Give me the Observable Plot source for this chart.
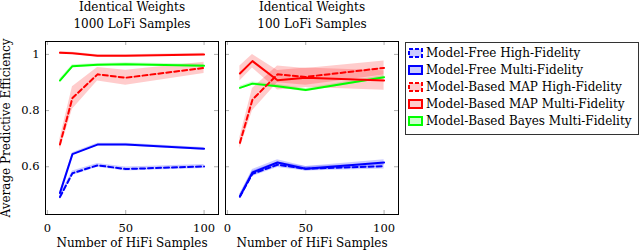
<!DOCTYPE html>
<html>
<head>
<meta charset="utf-8">
<script src="https://cdn.jsdelivr.net/npm/d3@7"></script>
<script src="https://cdn.jsdelivr.net/npm/@observablehq/plot@0.6"></script>
<style>
  body { margin: 0; background: #fff; }
  #wrap { position: relative; width: 640px; height: 252px; overflow: hidden; font-family: "DejaVu Serif", serif; }
  #legend { position: absolute; left: 405px; top: 42px; width: 232px; height: 90px; border: 1px solid #333; background: #fff; font-size: 12px; color: #000; box-sizing: content-box; padding-top: 1px; }
  .row { display: flex; align-items: center; height: 17px; white-space: nowrap; }
  .row svg { margin-left: 2px; margin-right: 3px; }
</style>
</head>
<body>
<div id="wrap"><div id="chart"></div><div id="legend"></div></div>
<script>
// ---- data ----
const xs = [8, 16, 32, 50, 100];
const panels = ["1000 LoFi Samples", "100 LoFi Samples"];
const titleTop = "Identical Weights";
const seriesNames = [
  "Model-Free High-Fidelity",
  "Model-Free Multi-Fidelity",
  "Model-Based MAP High-Fidelity",
  "Model-Based MAP Multi-Fidelity",
  "Model-Based Bayes Multi-Fidelity"
];
const seriesColors = ["#0000ff", "#0000ff", "#ff0000", "#ff0000", "#00ff00"];
const seriesDashed = [true, false, true, false, false];

// panel 1: 1000 LoFi samples
const mfHiFi1000 = [0.492, 0.577, 0.605, 0.592, 0.601];
const mfHiFi1000Err = [0.008, 0.008, 0.007, 0.007, 0.007];
const mfMulti1000 = [0.506, 0.645, 0.679, 0.679, 0.664];
const mfMulti1000Err = [0.005, 0.005, 0.005, 0.005, 0.005];
const mapHiFi1000 = [0.679, 0.845, 0.929, 0.917, 0.952];
const mapHiFi1000Err = [0.02, 0.04, 0.024, 0.027, 0.02];
const mapMulti1000 = [1.006, 1.004, 0.995, 0.995, 1.0];
const mapMulti1000Err = [0.004, 0.004, 0.004, 0.004, 0.004];
const bayes1000 = [0.907, 0.958, 0.963, 0.965, 0.96];
const bayes1000Err = [0.006, 0.005, 0.005, 0.005, 0.005];

// panel 2: 100 LoFi samples
const mfHiFi100 = [0.494, 0.575, 0.607, 0.593, 0.602];
const mfHiFi100Err = [0.008, 0.01, 0.01, 0.008, 0.01];
const mfMulti100 = [0.494, 0.58, 0.615, 0.593, 0.615];
const mfMulti100Err = [0.008, 0.01, 0.01, 0.008, 0.01];
const mapHiFi100 = [0.685, 0.839, 0.929, 0.92, 0.952];
const mapHiFi100Err = [0.02, 0.04, 0.03, 0.03, 0.025];
const mapMulti100 = [0.932, 0.976, 0.908, 0.917, 0.907];
const mapMulti100Err = [0.027, 0.024, 0.035, 0.035, 0.035];
const bayes100 = [0.881, 0.896, 0.887, 0.873, 0.919];
const bayes100Err = [0.006, 0.006, 0.006, 0.006, 0.006];

const xTicks = [0, 50, 100];
const yTicks = [0.6, 0.8, 1];
const xLabel = "Number of HiFi Samples";
const yLabel = "Average Predictive Efficiency";

// ---- build table ----
const panelSeries = [
  [[mfHiFi1000, mfHiFi1000Err], [mfMulti1000, mfMulti1000Err], [mapHiFi1000, mapHiFi1000Err], [mapMulti1000, mapMulti1000Err], [bayes1000, bayes1000Err]],
  [[mfHiFi100, mfHiFi100Err], [mfMulti100, mfMulti100Err], [mapHiFi100, mapHiFi100Err], [mapMulti100, mapMulti100Err], [bayes100, bayes100Err]]
];
const rows = [];
panels.forEach((p, pi) => {
  panelSeries[pi].forEach(([vals, errs], si) => {
    xs.forEach((x, i) => rows.push({panel: p, series: si, x, y: vals[i], lo: vals[i] - errs[i], hi: vals[i] + errs[i]}));
  });
});

const bandMarks = [], lineMarks = [];
seriesNames.forEach((name, si) => {
  const d = rows.filter(r => r.series === si);
  bandMarks.push(Plot.areaY(d, {x: "x", y1: "lo", y2: "hi", fx: "panel", fill: seriesColors[si], fillOpacity: 0.2, z: "panel"}));
  lineMarks.push(Plot.line(d, {x: "x", y: "y", fx: "panel", z: "panel", stroke: seriesColors[si], strokeWidth: 2, strokeDasharray: seriesDashed[si] ? "5,3" : null}));
});
const order = [4, 3, 2, 1, 0];

const titles = panels.map(p => ({panel: p, t: titleTop + "\n" + p}));

const chart = Plot.plot({
  width: 400,
  height: 252,
  marginTop: 41,
  marginBottom: 38,
  marginLeft: 45,
  marginRight: 2,
  x: {domain: [-1.2, 109.2]},
  y: {domain: [0.43, 1.046]},
  fx: {domain: panels, paddingInner: 0.039, paddingOuter: 0, axis: null},
  style: {fontFamily: "'DejaVu Serif', serif", fontSize: "12px", background: "#fff"},
  marks: [
    Plot.tickY(yTicks, {y: d => d, stroke: "#999", strokeWidth: 0.8, insetRight: 169}),
    Plot.tickY(yTicks, {y: d => d, stroke: "#999", strokeWidth: 0.8, insetLeft: 169}),
    Plot.tickX(xTicks, {x: d => d, stroke: "#999", strokeWidth: 0.8, insetTop: 169}),
    Plot.tickX(xTicks, {x: d => d, stroke: "#999", strokeWidth: 0.8, insetBottom: 169}),
    ...order.map(i => bandMarks[i]),
    ...order.map(i => lineMarks[i]),
    Plot.frame({stroke: "#000", strokeWidth: 1}),
    Plot.axisY({ticks: yTicks, tickSize: 0, tickPadding: 6, tickFormat: d => String(d), label: null, fontSize: 11.5}),
    Plot.axisX({ticks: xTicks, tickSize: 0, tickPadding: 9, tickFormat: d => String(d), label: null, fontSize: 11.5}),
    Plot.text(titles, {fx: "panel", text: "t", frameAnchor: "top", lineAnchor: "bottom", dy: -14, lineHeight: 1.4, fontSize: 12}),
    Plot.text(panels, {fx: d => d, text: () => xLabel, frameAnchor: "bottom", lineAnchor: "middle", dy: 29, fontSize: 12}),
    Plot.text([panels[0]], {fx: d => d, text: () => yLabel, frameAnchor: "left", textAnchor: "middle", rotate: -90, dx: -39, lineAnchor: "middle", fontSize: 12})
  ]
});
document.getElementById("chart").appendChild(chart);

// ---- legend ----
const legend = document.getElementById("legend");
seriesNames.forEach((name, si) => {
  const row = document.createElement("div");
  row.className = "row";
  const c = seriesColors[si];
  row.innerHTML = `<svg width="15" height="10"><rect x="1" y="1" width="13" height="8" fill="${c}" fill-opacity="0.2" stroke="${c}" stroke-width="2" ${seriesDashed[si] ? 'stroke-dasharray="4,2"' : ''}></rect></svg><span>${name}</span>`;
  legend.appendChild(row);
});
</script>
</body>
</html>
